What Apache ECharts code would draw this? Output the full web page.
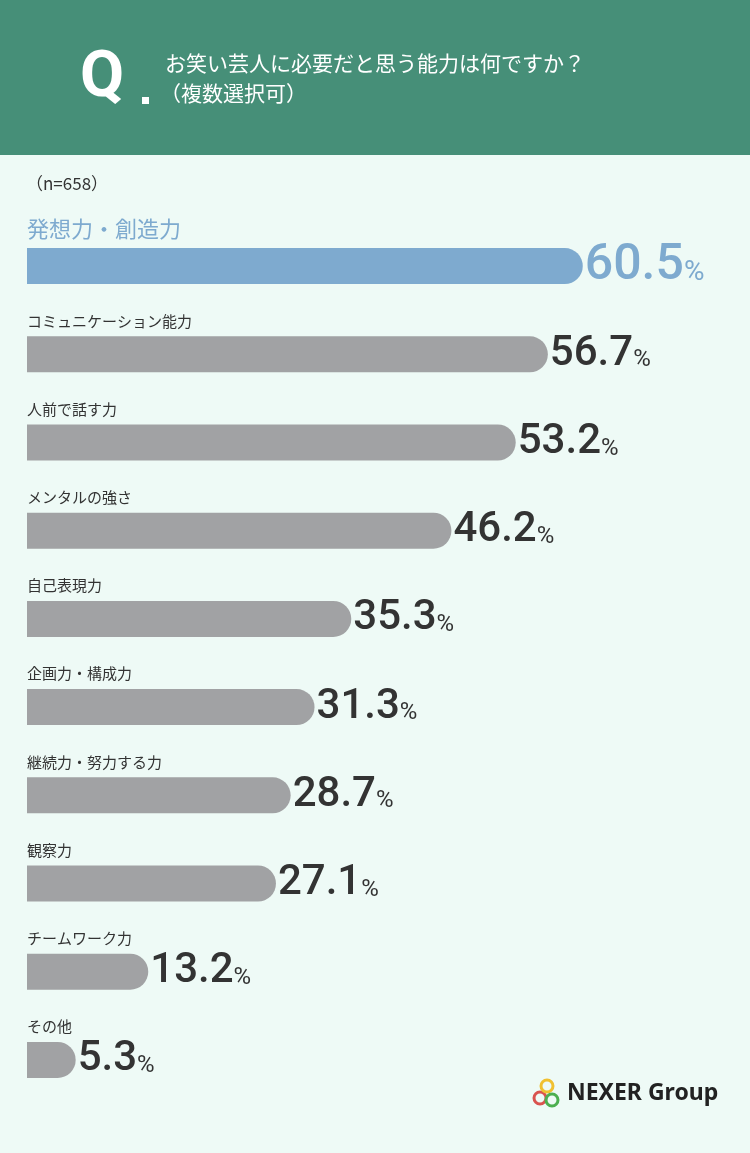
<!DOCTYPE html>
<html><head><meta charset="utf-8">
<script src="https://cdn.jsdelivr.net/npm/echarts@6/dist/echarts.min.js"></script>
<style>html,body{margin:0;padding:0;background:#eefaf6}#c{width:750px;height:1153px}</style>
</head><body><div id="c"></div>
<script>
const categories = ['発想力・創造力','コミュニケーション能力','人前で話す力','メンタルの強さ','自己表現力','企画力・構成力','継続力・努力する力','観察力','チームワーク力','その他'];
const values = [60.5,56.7,53.2,46.2,35.3,31.3,28.7,27.1,13.2,5.3];
const F = '"Noto Sans CJK JP","Noto Sans",sans-serif';
const N = 'Roboto,sans-serif';
const chart = echarts.init(document.getElementById('c'));
const barData = values.map((v,i)=>({value:v,itemStyle:{color:i===0?'#7eaacf':'#a1a2a4'},
  label:i===0?{color:'#7eaacf',fontSize:22}:{}}));
const valData = values.map((v,i)=>({value:v,label:i===0?{rich:{n:{fontSize:50,color:'#7eaacf',fontFamily:N,fontWeight:500},p:{fontSize:28,color:'#7eaacf',fontFamily:N,padding:[14,0,0,0]}}}:{}}));
chart.setOption({
  backgroundColor:'#eefaf6',
  animation:false,
  grid:{left:27,top:222,width:700,height:882},
  xAxis:{type:'value',min:0,max:76.2,show:false},
  yAxis:{type:'category',data:categories,inverse:true,show:false},
  graphic:[
    {type:'rect',shape:{x:0,y:0,width:750,height:155},style:{fill:'#468f78'}},
    {type:'text',x:80,y:48,style:{text:'Q',fontSize:64,fontWeight:'bold',fill:'#fff',fontFamily:'Roboto'}},
    {type:'rect',shape:{x:142,y:97,width:7,height:7},style:{fill:'#fff'}},
    {type:'text',x:165,y:53,style:{text:'お笑い芸人に必要だと思う能力は何ですか？',fontSize:21,fill:'#fff',fontFamily:F}},
    {type:'text',x:160,y:83,style:{text:'（複数選択可）',fontSize:21,fill:'#fff',fontFamily:F}},
    {type:'text',x:26,y:175,style:{text:'（n=658）',fontSize:17,fill:'#333',fontFamily:F}},
    {type:'circle',shape:{cx:540,cy:1098,r:6},style:{fill:'none',stroke:'#d9534f',lineWidth:3}},
    {type:'circle',shape:{cx:547,cy:1086,r:6},style:{fill:'none',stroke:'#f0c030',lineWidth:3}},
    {type:'circle',shape:{cx:552,cy:1100,r:6},style:{fill:'none',stroke:'#4caf50',lineWidth:3}},
    {type:'text',x:567,y:1082,style:{text:'NEXER Group',fontSize:23,fontWeight:'bold',fill:'#222',fontFamily:'"Noto Sans",sans-serif'}}
  ],
  series:[
    {type:'bar',data:barData,barWidth:36,itemStyle:{borderRadius:[0,18,18,0]},
     label:{show:true,position:[0,-8],verticalAlign:'bottom',align:'left',formatter:p=>p.name,fontSize:15,color:'#333',fontFamily:F}},
    {type:'bar',data:valData,barWidth:36,barGap:'-100%',itemStyle:{color:'transparent'},silent:true,
     label:{show:true,position:'right',distance:2,formatter:p=>'{n|'+p.value.toFixed(1)+'}{p|%}',
       rich:{n:{fontSize:42,color:'#333',fontFamily:N,fontWeight:500},p:{fontSize:24,color:'#333',fontFamily:N,padding:[12,0,0,0]}}}}
  ]
});
</script></body></html>
